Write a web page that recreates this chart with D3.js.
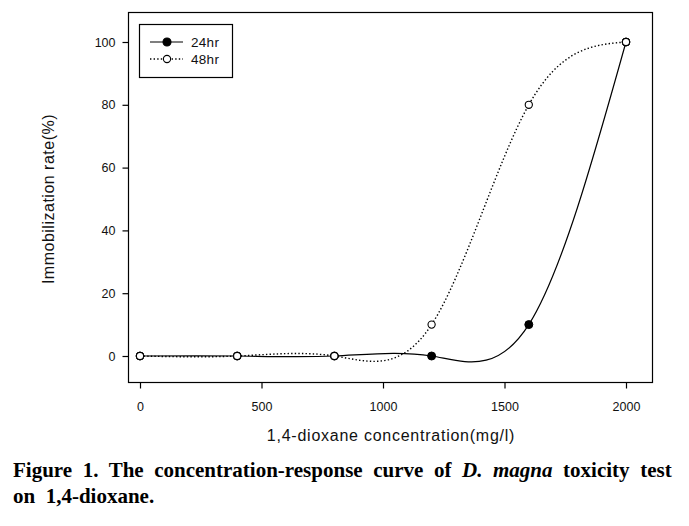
<!DOCTYPE html>
<html>
<head>
<meta charset="utf-8">
<script src="https://cdn.jsdelivr.net/npm/d3@7"></script>
<style>
  html, body { margin: 0; padding: 0; background: #fff; }
  svg { display: block; }
</style>
</head>
<body>
<svg id="chart" width="689" height="526"></svg>
<script>
// ---- data ----
const concentrations = [0, 400, 800, 1200, 1600, 2000];
const rate24 = [0, 0, 0, 0, 10, 100];
const rate48 = [0, 0, 0, 10, 80, 100];
const xTicks = [0, 500, 1000, 1500, 2000];
const yTicks = [0, 20, 40, 60, 80, 100];
const seriesNames = ["24hr", "48hr"];
const xLabel = "1,4-dioxane concentration(mg/l)";
const yLabel = "Immobilization rate(%)";

const svg = d3.select("#chart");
const frame = { left: 128.5, top: 12.5, right: 652.5, bottom: 382.5 };

const x = d3.scaleLinear().domain([0, 2000]).range([140, 626]);
const y = d3.scaleLinear().domain([0, 100]).range([356, 42]);

const textColor = "#111";
const axisFont = "Arial, 'Liberation Sans', sans-serif";

// frame
svg.append("rect")
  .attr("x", frame.left).attr("y", frame.top)
  .attr("width", frame.right - frame.left).attr("height", frame.bottom - frame.top)
  .attr("fill", "none").attr("stroke", "#000").attr("stroke-width", 1.2);

// axes
const xAxis = d3.axisBottom(x).tickValues(xTicks).tickSize(6).tickPadding(14).tickFormat(d3.format("d"));
const gx = svg.append("g").attr("transform", `translate(0,${frame.bottom})`).call(xAxis);
gx.select(".domain").remove();
gx.selectAll("line").attr("stroke", "#000").attr("stroke-width", 1.2);
gx.selectAll("text").attr("font-family", axisFont).attr("font-size", 12.5).attr("fill", textColor);

const yAxis = d3.axisLeft(y).tickValues(yTicks).tickSize(6).tickPadding(7).tickFormat(d3.format("d"));
const gy = svg.append("g").attr("transform", `translate(${frame.left},0)`).call(yAxis);
gy.select(".domain").remove();
gy.selectAll("line").attr("stroke", "#000").attr("stroke-width", 1.2);
gy.selectAll("text").attr("font-family", axisFont).attr("font-size", 12.5).attr("fill", textColor);

// axis labels
svg.append("text")
  .attr("x", 391).attr("y", 441)
  .attr("text-anchor", "middle")
  .attr("font-family", axisFont).attr("font-size", 16).attr("letter-spacing", 0.75).attr("fill", textColor)
  .text(xLabel);

svg.append("text")
  .attr("transform", "translate(54,199) rotate(-90)")
  .attr("text-anchor", "middle")
  .attr("font-family", axisFont).attr("font-size", 16).attr("letter-spacing", 0.5).attr("fill", textColor)
  .text(yLabel);

// curves
const d24 = concentrations.map((c, i) => [c, rate24[i]]);
const d48 = concentrations.map((c, i) => [c, rate48[i]]);
const line = d3.line().x(d => x(d[0])).y(d => y(d[1])).curve(d3.curveNatural);

svg.append("path").datum(d24).attr("d", line)
  .attr("fill", "none").attr("stroke", "#000").attr("stroke-width", 1.2);
svg.append("path").datum(d48).attr("d", line)
  .attr("fill", "none").attr("stroke", "#000").attr("stroke-width", 1.4)
  .attr("stroke-dasharray", "1.4,2.2");

// markers
svg.append("g").selectAll("circle").data(d24).join("circle")
  .attr("cx", d => x(d[0])).attr("cy", d => y(d[1])).attr("r", 4)
  .attr("fill", "#000").attr("stroke", "#000");
svg.append("g").selectAll("circle").data(d48).join("circle")
  .attr("cx", d => x(d[0])).attr("cy", d => y(d[1])).attr("r", 3.6)
  .attr("fill", "#fff").attr("stroke", "#000").attr("stroke-width", 1.1);

// legend
const lg = svg.append("g");
lg.append("rect").attr("x", 139.5).attr("y", 24.5).attr("width", 93).attr("height", 53)
  .attr("fill", "#fff").attr("stroke", "#000").attr("stroke-width", 1.2);
const rows = [
  { name: seriesNames[0], y: 42, dash: null, fill: "#000", r: 4 },
  { name: seriesNames[1], y: 59, dash: "1.4,2.2", fill: "#fff", r: 3.6 }
];
rows.forEach(r => {
  lg.append("line").attr("x1", 150).attr("x2", 183).attr("y1", r.y).attr("y2", r.y)
    .attr("stroke", "#000").attr("stroke-width", r.dash ? 1.4 : 1.2)
    .attr("stroke-dasharray", r.dash);
  lg.append("circle").attr("cx", 167).attr("cy", r.y).attr("r", r.r)
    .attr("fill", r.fill).attr("stroke", "#000").attr("stroke-width", 1.1);
  lg.append("text").attr("x", 191).attr("y", r.y + 5)
    .attr("font-family", axisFont).attr("font-size", 13.5).attr("letter-spacing", 0.3).attr("fill", textColor)
    .text(r.name);
});

// caption
const capFont = "'Liberation Serif', 'Times New Roman', serif";
const cap1 = svg.append("text").attr("x", 13).attr("y", 477)
  .attr("font-family", capFont).attr("font-size", 21).attr("font-weight", "bold").attr("fill", "#000");
cap1.append("tspan").text("Figure 1. The concentration-response curve of ");
cap1.append("tspan").attr("font-style", "italic").text("D. magna");
cap1.append("tspan").text(" toxicity test");
const target = 664;
const w = cap1.node().getComputedTextLength();
if (w < target) {
  cap1.attr("word-spacing", (target - w) / 10);
} else {
  cap1.attr("textLength", target).attr("lengthAdjust", "spacingAndGlyphs");
}

svg.append("text").attr("x", 13).attr("y", 503)
  .attr("font-family", capFont).attr("font-size", 21).attr("font-weight", "bold").attr("fill", "#000")
  .attr("xml:space", "preserve").style("white-space", "pre")
  .text("on  1,4-dioxane.");
</script>
</body>
</html>
